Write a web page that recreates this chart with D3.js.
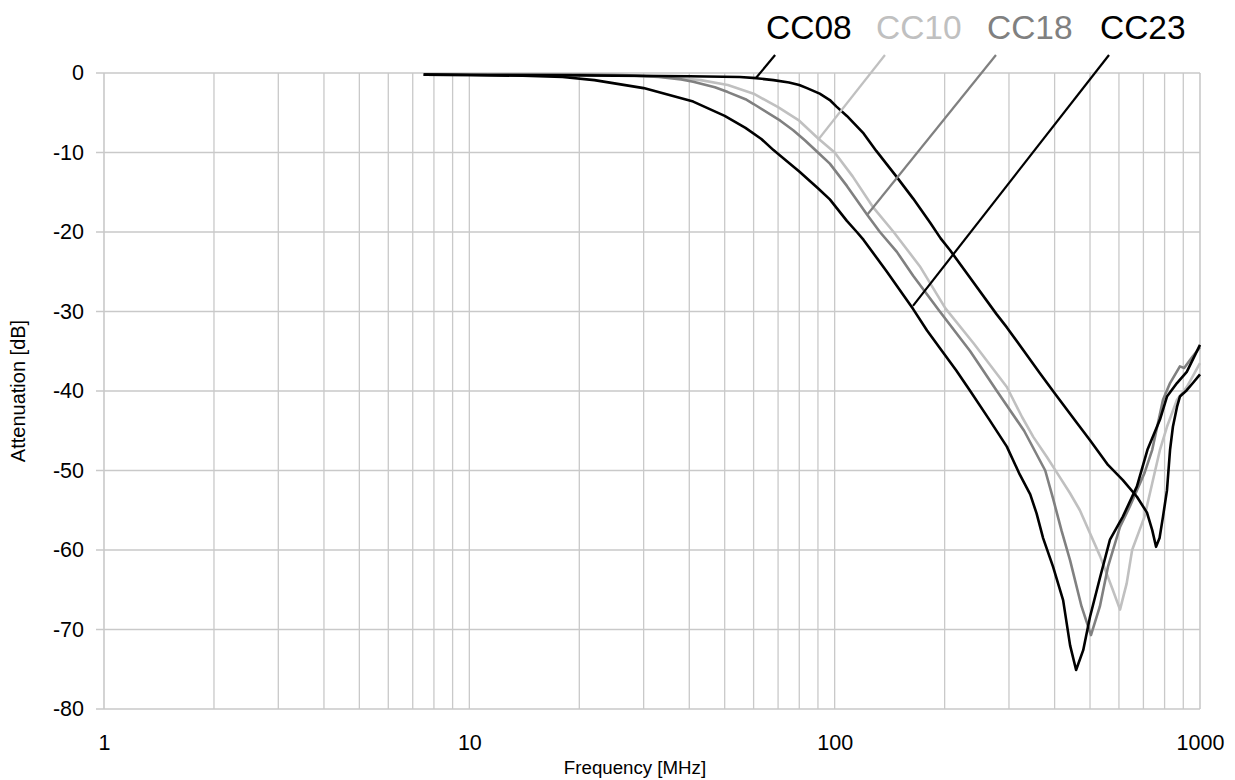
<!DOCTYPE html>
<html>
<head>
<meta charset="utf-8">
<script src="https://cdn.jsdelivr.net/npm/d3@7"></script>
<style>
  html, body { margin: 0; padding: 0; background: #ffffff; }
  svg { display: block; font-family: "Liberation Sans", Arial, sans-serif; }
</style>
</head>
<body>
<svg id="chart" width="1235" height="780"></svg>
<script>
// ---------------- DATA ----------------
const seriesNames = ["CC08", "CC10", "CC18", "CC23"];

const cc08Freq = [7.5, 10, 20, 40, 55, 61, 68, 75, 80, 84, 91, 97, 101, 108, 120, 130, 148, 164, 183, 195, 207, 230, 277, 296, 330, 365, 402, 460, 500, 560, 615, 672, 716, 740, 758, 775, 792, 812, 828, 843, 865, 881, 920, 960, 1000];
const cc08Att  = [-0.2, -0.25, -0.3, -0.4, -0.5, -0.65, -0.9, -1.2, -1.5, -1.9, -2.6, -3.4, -4.2, -5.4, -7.6, -9.8, -13.1, -15.8, -18.9, -20.8, -22.3, -25.2, -30.3, -32.0, -35.0, -37.8, -40.4, -44.0, -46.2, -49.3, -51.2, -53.3, -55.3, -57.5, -59.6, -58.5, -55.8, -52.5, -47.4, -44.5, -42.0, -40.7, -39.9, -38.9, -37.9];

const cc10Freq = [7.5, 25, 33, 43, 51, 60, 70, 80, 90, 100, 112, 127, 145, 171, 201, 240, 296, 326, 350, 381, 405, 440, 469, 533, 577, 604, 630, 652, 705, 740, 777, 812, 865, 920, 1000];
const cc10Att  = [-0.2, -0.2, -0.45, -0.9, -1.5, -2.6, -4.3, -6.0, -8.2, -10.0, -13.0, -16.8, -20.0, -24.3, -29.6, -34.0, -39.5, -43.3, -45.8, -48.3, -50.2, -52.8, -55.0, -60.8, -65.0, -67.5, -64.2, -60.0, -55.8, -51.6, -47.4, -44.5, -41.1, -39.5, -36.5];

const cc18Freq = [7.5, 20, 27.5, 33, 38, 41, 47, 51, 57, 60, 71, 77, 83, 90, 97, 108, 123, 133, 148, 164, 194, 235, 278, 330, 377, 396, 418, 441, 474, 503, 532, 560, 604, 643, 705, 740, 792, 828, 881, 905, 950, 1000];
const cc18Att  = [-0.2, -0.2, -0.3, -0.5, -0.8, -1.1, -1.8, -2.4, -3.3, -3.9, -6.0, -7.2, -8.5, -10.0, -11.4, -14.2, -17.9, -20.0, -22.5, -25.5, -30.0, -35.0, -40.0, -45.0, -50.0, -53.5, -57.6, -61.3, -67.1, -70.7, -67.1, -62.1, -57.1, -54.5, -50.3, -47.4, -41.1, -39.0, -36.9, -37.1, -35.8, -34.5];

const cc23Freq = [7.5, 10, 14, 18, 22, 30, 41, 50, 57, 63, 68, 71, 80, 90, 97, 108, 115, 120, 139, 164, 179, 194, 215, 235, 265, 296, 321, 343, 357, 372, 396, 422, 441, 458, 479, 500, 533, 567, 615, 672, 718, 777, 812, 865, 920, 1000];
const cc23Att  = [-0.2, -0.25, -0.35, -0.5, -0.9, -1.9, -3.6, -5.4, -6.9, -8.3, -9.7, -10.4, -12.4, -14.5, -15.9, -18.6, -20.0, -21.0, -25.0, -29.7, -32.4, -34.6, -37.4, -40.0, -43.6, -47.0, -50.5, -53.0, -55.4, -58.5, -62.1, -66.3, -72.0, -75.1, -72.6, -68.4, -63.4, -58.7, -55.8, -52.0, -47.4, -43.6, -40.7, -39.0, -37.6, -34.2];

const xTickValues = [1, 10, 100, 1000];
const yTickValues = [0, -10, -20, -30, -40, -50, -60, -70, -80];
const xTitle = "Frequency [MHz]";
const yTitle = "Attenuation [dB]";

// leader lines: [label-end freq, label-end dB] -> [curve-end freq, curve-end dB]
const leaderFromFreq = [68.7, 137.3, 276.4, 563.5];
const leaderFromAtt  = [2.26, 2.26, 2.26, 2.26];
const leaderToFreq   = [60.9, 90.0, 122.6, 163.8];
const leaderToAtt    = [-0.63, -8.43, -17.86, -29.3];

// ---------------- STYLE ----------------
const colors = { CC08: "#000000", CC10: "#c0c0c0", CC18: "#808080", CC23: "#000000" };
const gridColor = "#c9c9c9";
const FONT = "Liberation Sans, Arial, sans-serif";

const svg = d3.select("#chart");
const margin = { left: 104, right: 35, top: 73, bottom: 71 };
const W = 1235, H = 780;

const x = d3.scaleLog().domain([1, 1000]).range([margin.left, W - margin.right]);
const y = d3.scaleLinear().domain([-80, 0]).range([H - margin.bottom, margin.top]);

// vertical grid (all log minor ticks)
const minorTicks = [];
for (let d = 1; d < 1000; d *= 10) for (let k = 1; k <= 10; k++) minorTicks.push(d * k);
const uniqTicks = Array.from(new Set(minorTicks));

const grid = svg.append("g");
grid.selectAll("line.v").data(uniqTicks).join("line")
  .attr("x1", d => x(d)).attr("x2", d => x(d))
  .attr("y1", y(0)).attr("y2", y(-80))
  .attr("stroke", gridColor)
  .attr("stroke-width", d => (d === 1 || d === 1000) ? 1.6 : 1.3);

// horizontal grid
grid.selectAll("line.h").data(yTickValues).join("line")
  .attr("x1", x(1) - 8).attr("x2", x(1000))
  .attr("y1", d => y(d)).attr("y2", d => y(d))
  .attr("stroke", gridColor)
  .attr("stroke-width", d => (d === 0 || d === -80) ? 1.6 : 1.3);

const fmt = d => String(d);

// y axis labels
const yAxis = d3.axisLeft(y).tickValues(yTickValues).tickSize(0).tickPadding(20).tickFormat(fmt);
const gy = svg.append("g").attr("transform", `translate(${x(1)},0)`).call(yAxis);
gy.select(".domain").remove();
gy.selectAll("text").attr("font-size", 21.5).attr("fill", "#000").attr("font-family", FONT);

// x axis labels
const xAxis = d3.axisBottom(x).tickValues(xTickValues).tickSize(0).tickPadding(26).tickFormat(fmt);
const gx = svg.append("g").attr("transform", `translate(0,${y(-80)})`).call(xAxis);
gx.select(".domain").remove();
gx.selectAll("text").attr("font-size", 21.5).attr("fill", "#000").attr("font-family", FONT);

// axis titles
svg.append("text").attr("x", 635).attr("y", 774)
  .attr("text-anchor", "middle").attr("font-size", 18.7).attr("font-family", FONT).text(xTitle);
svg.append("text").attr("transform", `translate(25,${(y(0) + y(-80)) / 2}) rotate(-90)`)
  .attr("text-anchor", "middle").attr("font-size", 20).attr("font-family", FONT).text(yTitle);

// series
const seriesData = {
  CC08: cc08Freq.map((f, i) => [f, cc08Att[i]]),
  CC10: cc10Freq.map((f, i) => [f, cc10Att[i]]),
  CC18: cc18Freq.map((f, i) => [f, cc18Att[i]]),
  CC23: cc23Freq.map((f, i) => [f, cc23Att[i]])
};
const line = d3.line().x(d => x(d[0])).y(d => y(d[1]));

const drawOrder = ["CC10", "CC18", "CC23", "CC08"];
svg.append("g").selectAll("path").data(drawOrder).join("path")
  .attr("d", k => line(seriesData[k]))
  .attr("fill", "none")
  .attr("stroke", k => colors[k])
  .attr("stroke-width", 2.6)
  .attr("stroke-linejoin", "round");

// leader lines
svg.append("g").selectAll("line").data(seriesNames).join("line")
  .attr("x1", (k, i) => x(leaderFromFreq[i])).attr("y1", (k, i) => y(leaderFromAtt[i]))
  .attr("x2", (k, i) => x(leaderToFreq[i])).attr("y2", (k, i) => y(leaderToAtt[i]))
  .attr("stroke", k => colors[k]).attr("stroke-width", 2.2);

// labels
svg.append("g").selectAll("text").data(seriesNames).join("text")
  .attr("x", (k, i) => x(leaderFromFreq[i]) - 9)
  .attr("y", 39)
  .attr("font-size", 33.5)
  .attr("font-family", FONT)
  .attr("fill", k => colors[k])
  .text(k => k);
</script>
</body>
</html>
